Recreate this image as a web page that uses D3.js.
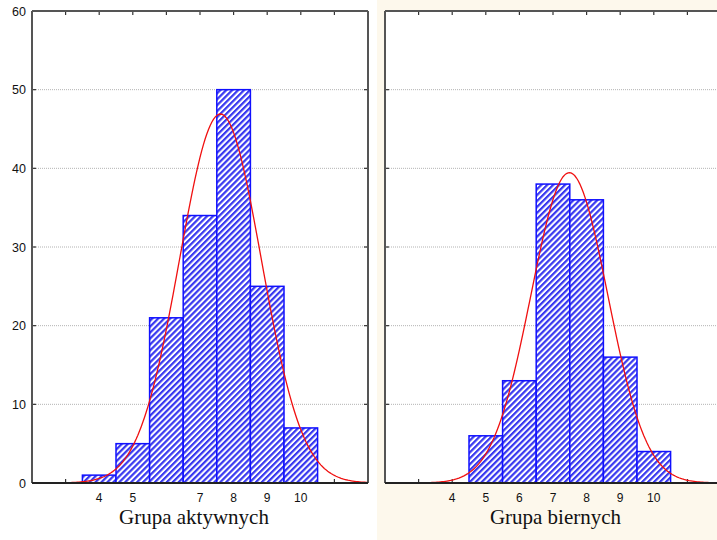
<!DOCTYPE html>
<html><head><meta charset="utf-8">
<script src="https://cdn.jsdelivr.net/npm/d3@7"></script>
<style>
body{margin:0;background:#fff;}
svg{display:block;}
</style></head>
<body>
<svg id="c" width="717" height="540"></svg>
<script>
// ---- data ----
const bins = [4, 5, 6, 7, 8, 9, 10];
const countsActive = [1, 5, 21, 34, 50, 25, 7];
const countsPassive = [0, 6, 13, 38, 36, 16, 4];
const labelsActive = ["4", "5", "", "7", "8", "9", "10"];
const labelsPassive = ["4", "5", "6", "7", "8", "9", "10"];
const yTicks = [0, 10, 20, 30, 40, 50, 60];
const titles = ["Grupa aktywnych", "Grupa biernych"];

const svg = d3.select("#c");
// cream background behind right panel
svg.append("rect").attr("x", 377).attr("y", 0).attr("width", 340).attr("height", 540).attr("fill", "#fdf8ec");

const defs = svg.append("defs");
const pat = defs.append("pattern").attr("id", "hatch").attr("patternUnits", "userSpaceOnUse")
  .attr("width", 4.2).attr("height", 4.2).attr("patternTransform", "rotate(45)");
pat.append("rect").attr("width", 4.2).attr("height", 4.2).attr("fill", "#fff");
pat.append("rect").attr("x", 0).attr("width", 2.2).attr("height", 4.2).attr("fill", "#3838f0");

const y = d3.scaleLinear().domain([0, 60]).range([483, 11]);

function fitNormal(counts) {
  const n = d3.sum(counts);
  const mean = d3.sum(bins, (b, i) => b * counts[i]) / n;
  const ss = d3.sum(bins, (b, i) => counts[i] * (b - mean) ** 2);
  const sd = Math.sqrt(ss / (n - 1));
  return {n, mean, sd};
}

function panel(x0, counts, labels, title, titleX, showYLabels) {
  const x1 = x0 + 336;
  const x = d3.scaleLinear().domain([2, 12]).range([x0, x1]);
  const g = svg.append("g");
  g.append("rect").attr("x", x0).attr("y", 11).attr("width", 336).attr("height", 472).attr("fill", "#fff");
  // grid
  g.selectAll("line.grid").data(yTicks.filter(t => t > 0 && t < 60)).enter().append("line")
    .attr("x1", x0).attr("x2", x1).attr("y1", d => y(d)).attr("y2", d => y(d))
    .attr("stroke", "#a0a0a0").attr("stroke-width", 0.8).attr("stroke-dasharray", "1,1");
  // inner x ticks (top and bottom)
  const xt = d3.range(3, 12);
  g.selectAll("line.tt").data(xt).enter().append("line")
    .attr("x1", d => x(d)).attr("x2", d => x(d)).attr("y1", 11).attr("y2", 15)
    .attr("stroke", "#333").attr("stroke-width", 1.2);
  g.selectAll("line.bt").data(xt).enter().append("line")
    .attr("x1", d => x(d)).attr("x2", d => x(d)).attr("y1", 483).attr("y2", 479)
    .attr("stroke", "#333").attr("stroke-width", 1.2);
  // y ticks inward both sides
  g.selectAll("line.ly").data(yTicks).enter().append("line")
    .attr("x1", x0).attr("x2", x0 + 4).attr("y1", d => y(d)).attr("y2", d => y(d))
    .attr("stroke", "#333").attr("stroke-width", 1.2);
  g.selectAll("line.ry").data(yTicks).enter().append("line")
    .attr("x1", x1).attr("x2", x1 - 4).attr("y1", d => y(d)).attr("y2", d => y(d))
    .attr("stroke", "#333").attr("stroke-width", 1.2);
  // bars
  g.selectAll("rect.bar").data(bins).enter().append("rect")
    .attr("x", d => x(d - 0.5)).attr("width", d => x(d + 0.5) - x(d - 0.5))
    .attr("y", (d, i) => y(counts[i])).attr("height", (d, i) => y(0) - y(counts[i]))
    .attr("fill", "url(#hatch)").attr("stroke", "#1010ff").attr("stroke-width", 1.5);
  // normal curve
  const f = fitNormal(counts);
  const pts = d3.range(2, 12.001, 0.05).map(v => [v,
    f.n / (f.sd * Math.sqrt(2 * Math.PI)) * Math.exp(-0.5 * ((v - f.mean) / f.sd) ** 2)]);
  g.append("path").datum(pts)
    .attr("d", d3.line().x(d => x(d[0])).y(d => y(d[1])))
    .attr("fill", "none").attr("stroke", "#f01010").attr("stroke-width", 1.3);
  // frame
  g.append("line").attr("x1", x0).attr("x2", x1).attr("y1", 11).attr("y2", 11).attr("stroke", "#555").attr("stroke-width", 2);
  g.append("line").attr("x1", x0).attr("x2", x0).attr("y1", 11).attr("y2", 483).attr("stroke", "#555").attr("stroke-width", 2);
  g.append("line").attr("x1", x1).attr("x2", x1).attr("y1", 11).attr("y2", 483).attr("stroke", "#555").attr("stroke-width", 2);
  g.append("line").attr("x1", x0).attr("x2", x1).attr("y1", 483).attr("y2", 483).attr("stroke", "#222").attr("stroke-width", 2);
  // y labels
  if (showYLabels) {
    g.selectAll("text.yl").data(yTicks).enter().append("text")
      .attr("x", x0 - 6).attr("y", d => y(d) + 4.5).attr("text-anchor", "end")
      .attr("font-family", "Liberation Sans, Arial, sans-serif").attr("font-size", 12.5).attr("fill", "#111")
      .text(d => d);
  }
  // x labels
  g.selectAll("text.xl").data(bins).enter().append("text")
    .attr("x", d => x(d)).attr("y", 501.5).attr("text-anchor", "middle")
    .attr("font-family", "Liberation Sans, Arial, sans-serif").attr("font-size", 12).attr("fill", "#111")
    .text((d, i) => labels[i]);
  g.append("text").attr("x", titleX).attr("y", 523.5).attr("text-anchor", "middle")
    .attr("font-family", "Liberation Serif, Times New Roman, serif").attr("font-size", 21).attr("fill", "#111")
    .text(title);
}

panel(32, countsActive, labelsActive, titles[0], 194, true);
panel(385, countsPassive, labelsPassive, titles[1], 555.5, false);
</script>
</body></html>
